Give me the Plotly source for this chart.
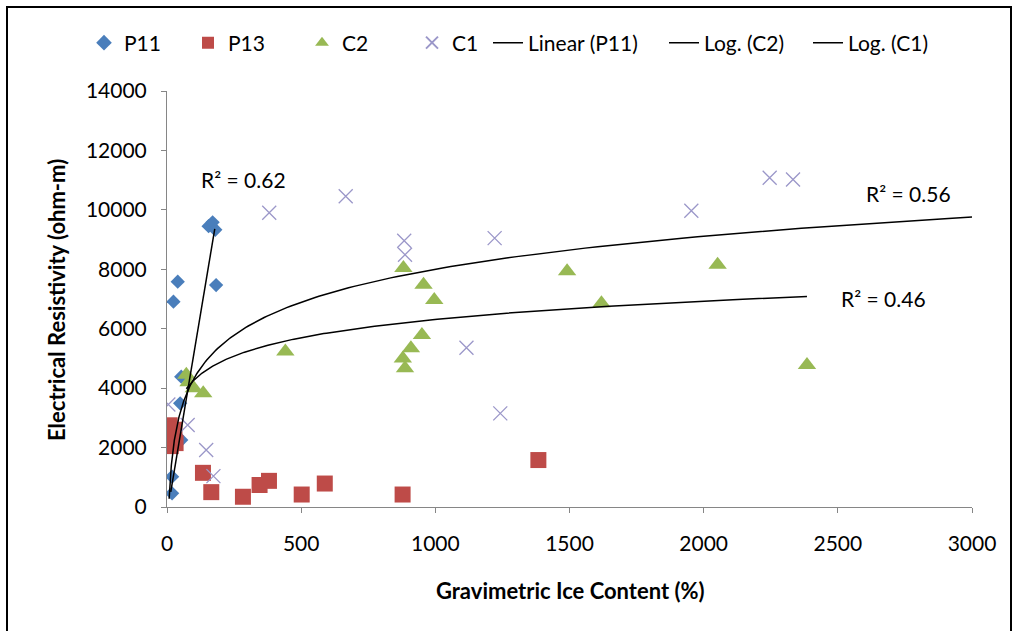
import numpy as np
import plotly.graph_objects as go

# ---- data ----
p11_x = [19, 19, 24, 40, 49, 53, 53, 155, 170, 180, 183]
p11_y = [460, 1021, 6911, 7584, 3490, 4386, 2255, 9450, 9580, 9330, 7470]

p13_x = [10, 28, 14, 32, 20, 134, 165, 283, 345, 380, 502, 588, 878, 1384]
p13_y = [2750, 2600, 2050, 2150, 2350, 1150, 500, 345, 740, 880, 420, 790, 420, 1580]

c2_x = [72, 80, 100, 135, 441, 879, 887, 881, 909, 950, 956, 996, 1491, 1619, 2052, 2385]
c2_y = [4450, 4200, 4000, 3830, 5230, 5000, 4670, 8040, 5340, 5790, 7480, 6970, 7930, 6860, 8150, 4780]

c1_x = [5, 77, 146, 173, 381, 666, 884, 887, 1116, 1221, 1242, 1954, 2246, 2333]
c1_y = [3450, 2760, 1918, 1040, 9900, 10460, 8960, 8490, 5360, 9050, 3150, 9970, 11080, 11020]

# trendline coefficients
lin_p11 = {"slope": 54.0, "intercept": -250.0, "x0": 14, "x1": 178}
log_c2 = {"a": 888.0, "b": 179.0, "x0": 72, "x1": 2385}
log_c1 = {"a": 1600.0, "b": -3050.0, "x0": 8, "x1": 3000}

r2_labels = ["R² = 0.62", "R² = 0.56", "R² = 0.46"]
r2_pos_x = [285, 2764, 2671]
r2_pos_y = [11006, 10558, 7024]

x_ticks = [0, 500, 1000, 1500, 2000, 2500, 3000]
y_ticks = [0, 2000, 4000, 6000, 8000, 10000, 12000, 14000]
y_ticktext = [str(v) for v in y_ticks]

FONT = "Lato"
AX = "#868686"
FS = 21

# plot area in pixels (for placing legends / titles in paper units)
L, R, T, B = 167, 41, 91, 124
PW, PH = 1013 - L - R, 631 - T - B


def px_x(p):
    return (p - L) / PW


def px_y(p):
    return (631 - B - p) / PH


fig = go.Figure()
fig.add_trace(go.Scatter(x=p11_x, y=p11_y, mode="markers", name="P11", legend="legend",
                         marker=dict(symbol="diamond", size=11, color="#4A7EBB")))
fig.add_trace(go.Scatter(x=p13_x, y=p13_y, mode="markers", name="P13", legend="legend2",
                         marker=dict(symbol="square", size=16, color="#BE4B48")))
fig.add_trace(go.Scatter(x=c2_x, y=c2_y, mode="markers", name="C2", legend="legend3",
                         marker=dict(symbol="triangle-up", size=16, color="#98B954")))
fig.add_trace(go.Scatter(x=c1_x, y=c1_y, mode="markers", name="C1", legend="legend4",
                         marker=dict(symbol="x-thin", size=14, color="#9b97c9",
                                     line=dict(width=1.3, color="#9b97c9"))))

xl = np.linspace(lin_p11["x0"], lin_p11["x1"], 2)
fig.add_trace(go.Scatter(x=xl, y=lin_p11["slope"] * xl + lin_p11["intercept"], mode="lines",
                         name="Linear (P11)", legend="legend5",
                         line=dict(color="black", width=1.5)))
xg = np.geomspace(log_c2["x0"], log_c2["x1"], 200)
fig.add_trace(go.Scatter(x=xg, y=log_c2["a"] * np.log(xg) + log_c2["b"], mode="lines",
                         name="Log. (C2)", legend="legend6",
                         line=dict(color="black", width=1.5)))
xc = np.geomspace(log_c1["x0"], log_c1["x1"], 200)
fig.add_trace(go.Scatter(x=xc, y=log_c1["a"] * np.log(xc) + log_c1["b"], mode="lines",
                         name="Log. (C1)", legend="legend7",
                         line=dict(color="black", width=1.5)))

annotations = []
for t, ax_, ay_ in zip(r2_labels, r2_pos_x, r2_pos_y):
    annotations.append(dict(x=ax_, y=ay_, xref="x", yref="y", text=t, showarrow=False,
                            font=dict(family=FONT, size=FS, color="black")))
annotations.append(dict(x=px_x(56), y=px_y(300), xref="paper", yref="paper",
                        xanchor="center", yanchor="middle",
                        text="<b>Electrical Resistivity (ohm-m)</b>", textangle=-90,
                        showarrow=False, font=dict(family=FONT, size=22, color="black")))
annotations.append(dict(x=px_x(570), y=px_y(590), xref="paper", yref="paper",
                        xanchor="center", yanchor="middle",
                        text="<b>Gravimetric Ice Content (%)</b>",
                        showarrow=False, font=dict(family=FONT, size=22, color="black")))

# legend entries placed individually (left edge in pixels)
legend_left_px = [84, 188, 302, 412, 488, 664, 808]
legend_names = ["legend", "legend2", "legend3", "legend4", "legend5", "legend6", "legend7"]
legend_sizing = ["constant", "constant", "constant", "constant", "trace", "trace", "trace"]
legends = {}
for nm, lp, sz in zip(legend_names, legend_left_px, legend_sizing):
    legends[nm] = dict(x=px_x(lp), xanchor="left", y=px_y(43), yanchor="middle",
                       orientation="h", font=dict(family=FONT, size=FS, color="black"),
                       bgcolor="rgba(0,0,0,0)", borderwidth=0, itemsizing=sz)

fig.update_layout(
    width=1013, height=631,
    margin=dict(l=L, r=R, t=T, b=B),
    paper_bgcolor="white", plot_bgcolor="white",
    font=dict(family=FONT, size=FS, color="black"),
    showlegend=True,
    xaxis=dict(range=[0, 3000], tickvals=x_ticks, showgrid=False, zeroline=False,
               showline=True, linecolor=AX, linewidth=1, ticks="outside", ticklen=5,
               tickcolor=AX, ticklabelstandoff=13, tickfont=dict(family=FONT, size=FS)),
    yaxis=dict(range=[0, 14000], tickvals=y_ticks, ticktext=y_ticktext, showgrid=False,
               zeroline=False, showline=True, linecolor=AX, linewidth=1, ticks="outside",
               ticklen=5, tickcolor=AX, ticklabelstandoff=10,
               tickfont=dict(family=FONT, size=FS)),
    annotations=annotations,
    shapes=[dict(type="rect", xref="paper", yref="paper",
                 x0=px_x(7), x1=px_x(1011), y0=px_y(660), y1=px_y(7),
                 line=dict(color="black", width=2), fillcolor="rgba(0,0,0,0)", layer="above")],
    **legends,
)

fig.write_html("out.html")
